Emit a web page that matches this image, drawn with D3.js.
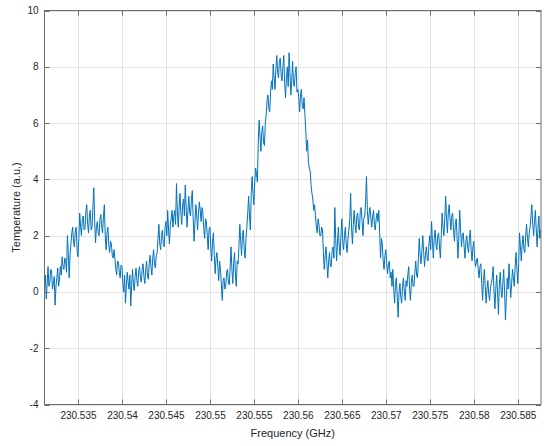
<!DOCTYPE html>
<html>
<head>
<meta charset="utf-8">
<script src="https://cdnjs.cloudflare.com/ajax/libs/d3/7.8.5/d3.min.js"></script>
<style>
    body { margin: 0; background: #fff; }
    div.container { width: 547px; height: 446px; }
    text { font-family: "Liberation Sans", Arial, sans-serif; }
</style>
</head>
<body>
<div class="container"></div>
<script>
// channel grid (GHz)
const FREQ_START = 230.53114
const FREQ_STEP = 0.0001

// temperature per channel
const temperature = [
    0.1, 0.6, -0.25, 0.3, 0.9, 0.2, 0.35, 0.8, 0.75, 0.1, 0.3, 0.55, -0.47, 0.2, 0.5, 0.85, 0.2, 0.45, 0.9, 0.6,
    1.25, 0.9, 0.8, 1.2, 1.15, 0.7, 2.0, 1.4, 0.5, 1.3, 1.7, 2.1, 2.3, 1.75, 1.6, 2.2, 2.3, 1.5, 1.25, 1.9,
    2.8, 2.3, 2.0, 2.6, 2.7, 2.2, 2.25, 2.85, 3.1, 2.4, 2.1, 2.7, 2.9, 2.2, 2.3, 3.0, 3.7, 2.5, 1.75, 2.3,
    2.5, 2.1, 2.0, 2.6, 2.75, 2.3, 2.1, 2.7, 3.1, 2.0, 1.5, 2.1, 2.3, 1.7, 1.4, 1.8, 1.7, 1.3, 1.2, 1.5,
    1.2, 0.8, 0.6, 1.1, 1.05, 0.7, 0.5, 0.95, 0.9, 0.3, 0.0, 0.6, -0.4, 0.2, 0.7, 0.35, 0.1, 0.6, -0.5, 0.2,
    0.8, 0.3, 0.05, 0.55, 0.85, 0.4, 0.2, 0.7, 0.9, 0.5, 0.35, 0.8, 1.0, 0.55, 0.3, 0.75, 1.1, 0.6, 0.45, 1.0,
    1.3, 0.9, 0.6, 1.2, 1.5, 1.0, 0.85, 1.3, 1.4, 1.9, 2.4, 1.7, 1.5, 2.0, 2.2, 1.7, 1.6, 2.3, 2.5, 2.0,
    2.9, 2.2, 1.7, 2.4, 2.6, 2.9, 2.3, 2.7, 2.9, 2.4, 3.85, 2.9, 2.3, 3.0, 3.5, 2.8, 2.4, 3.1, 3.3, 2.7,
    3.8, 3.0, 2.3, 2.9, 3.4, 2.8, 2.7, 3.3, 3.6, 2.6, 1.8, 2.5, 3.1, 2.7, 2.2, 2.8, 3.2, 2.9, 2.5, 3.0,
    2.8, 2.3, 1.9, 2.6, 2.5, 2.0, 1.5, 2.2, 2.3, 1.6, 1.1, 1.8, 2.1, 1.3, 0.65, 1.2, 1.4, 0.9, 0.4, 1.1,
    0.8, 0.3, -0.3, 0.4, 0.5, 0.1, 0.2, 0.7, 0.8, 0.35, 0.25, 0.9, 1.6, 0.8, 0.3, 1.0, 1.4, 0.6, 0.2, 1.1,
    1.0, 1.6, 2.4, 1.8, 1.3, 2.0, 2.2, 1.5, 1.2, 1.9, 2.3, 2.8, 3.4, 2.7, 2.2, 3.5, 4.1, 3.5, 3.1, 3.9,
    4.4, 4.2, 3.9, 5.4, 6.1, 5.5, 5.0, 5.7, 5.9, 5.3, 5.2, 6.0, 6.3, 6.8, 7.0, 6.5, 6.4, 7.1, 7.5, 7.2,
    8.1, 7.6, 7.2, 7.9, 8.4, 7.8, 7.6, 8.2, 8.3, 7.7, 7.5, 8.0, 8.4, 7.4, 6.9, 7.6, 8.0, 7.3, 8.5, 7.8,
    7.0, 7.5, 8.2, 7.4, 7.3, 7.8, 8.0, 7.1, 7.2, 6.9, 6.4, 7.0, 7.2, 6.6, 6.5, 6.9, 6.3, 5.7, 5.0, 5.4,
    4.6, 4.4, 4.3, 3.8, 3.5, 3.3, 2.9, 3.1, 2.7, 2.3, 2.1, 2.6, 2.4, 2.0, 2.0, 2.3, 2.2, 1.4, 0.8, 1.3,
    1.6, 1.0, 0.5, 1.1, 1.4, 0.9, 0.9, 1.5, 1.6, 1.2, 3.0, 1.9, 1.1, 1.7, 2.3, 1.6, 1.3, 2.0, 2.6, 1.8,
    1.5, 2.0, 2.3, 1.7, 1.4, 1.9, 2.2, 2.6, 3.5, 2.3, 1.7, 2.4, 2.9, 2.4, 2.1, 2.7, 2.8, 2.3, 2.2, 2.9,
    3.0, 2.5, 2.0, 2.6, 2.7, 3.2, 4.1, 2.9, 2.4, 2.8, 3.0, 2.6, 2.3, 2.7, 2.9, 2.4, 2.2, 2.6, 2.8, 2.5,
    2.9, 2.1, 1.2, 1.9, 1.7, 1.1, 0.8, 1.3, 1.5, 1.0, 0.65, 1.0, 1.1, 0.5, 0.7, 0.2, 0.8, 0.1, -0.4, 0.3,
    0.5, -0.2, -0.9, 0.0, 0.3, -0.2, -0.4, 0.2, 0.5, 0.0, -0.3, 0.4, 0.2, 0.6, 0.9, 0.1, -0.3, 0.3, 0.6, 0.2,
    0.2, 0.7, 1.1, 0.6, 0.5, 1.2, 1.9, 1.3, 1.0, 1.5, 2.0, 1.4, 0.9, 1.3, 1.6, 1.2, 1.1, 1.7, 2.0, 1.5,
    2.5, 1.8, 1.2, 1.9, 2.2, 1.7, 1.5, 2.0, 2.1, 1.6, 1.2, 2.0, 2.8, 2.3, 2.0, 2.6, 3.4, 2.6, 2.1, 2.8,
    3.1, 2.6, 2.2, 2.7, 2.8, 2.2, 1.8, 2.4, 2.6, 1.9, 1.2, 2.0, 2.9, 2.2, 1.6, 2.0, 2.1, 1.6, 1.2, 1.8,
    2.0, 1.6, 1.4, 1.9, 2.2, 1.5, 1.1, 1.6, 1.8, 1.2, 0.9, 1.1, 1.2, 0.8, 0.5, 0.9, 1.0, 0.3, -0.3, 0.4,
    0.8, 0.2, -0.4, 0.1, 0.4, -0.1, -0.3, 0.2, 0.3, 0.5, 0.9, 0.0, -0.6, 0.1, 0.6, 0.0, -0.8, 0.2, 0.7, 0.1,
    -0.2, 0.3, 0.8, 0.0, -1.0, -0.2, 0.5, 0.1, 1.0, 0.4, -0.2, 0.3, 0.8, 0.5, 0.2, 0.9, 1.4, 0.8, 0.3, 1.0,
    2.1, 1.6, 1.1, 1.7, 2.0, 1.5, 1.4, 2.0, 2.4, 1.9, 1.6, 2.1, 2.3, 2.7, 3.1, 2.4, 2.0, 2.5, 2.9, 2.2,
    1.6, 2.3, 2.7, 1.9, 2.2
]

// axis ticks
const xTickValues = [230.535, 230.54, 230.545, 230.55, 230.555, 230.56, 230.565, 230.57, 230.575, 230.58, 230.585]
const xTickLabels = ["230.535", "230.54", "230.545", "230.55", "230.555", "230.56", "230.565", "230.57", "230.575", "230.58", "230.585"]
const yTickValues = [-4, -2, 0, 2, 4, 6, 8, 10]
const yTickLabels = ["-4", "-2", "0", "2", "4", "6", "8", "10"]

const xDomain = [230.531136, 230.58758]
const yDomain = [-4, 10]

// plot box in pixels
const boxLeft = 44.5, boxRight = 541, boxTop = 10.5, boxBottom = 404.5
const tickLen = 5
const axisColor = "#6e6e6e"
const textColor = "#262626"
const gridColor = "#e3e3e3"
const lineColor = "#0072bd"

const svg = d3.select("div.container").append("svg")
    .attr("width", 547)
    .attr("height", 446)

const x = d3.scaleLinear().domain(xDomain).range([boxLeft, boxRight])
const y = d3.scaleLinear().domain(yDomain).range([boxBottom, boxTop])

const data = temperature.map((t, i) => [FREQ_START + i * FREQ_STEP, t])

// grid lines
svg.append("g").selectAll("line")
    .data(xTickValues)
    .enter().append("line")
    .attr("x1", d => Math.round(x(d)) + 0.5).attr("x2", d => Math.round(x(d)) + 0.5)
    .attr("y1", boxTop).attr("y2", boxBottom)
    .attr("stroke", gridColor)

svg.append("g").selectAll("line")
    .data(yTickValues)
    .enter().append("line")
    .attr("y1", d => Math.round(y(d)) + 0.5).attr("y2", d => Math.round(y(d)) + 0.5)
    .attr("x1", boxLeft).attr("x2", boxRight)
    .attr("stroke", gridColor)

// the spectrum
svg.append("path")
    .datum(data)
    .attr("fill", "none")
    .attr("stroke", lineColor)
    .attr("stroke-width", 1)
    .attr("stroke-linejoin", "round")
    .attr("d", d3.line().x(d => x(d[0])).y(d => y(d[1])))

// box with inward ticks on all four sides
const axes = svg.append("g").attr("stroke", axisColor).attr("fill", "none")

axes.append("rect")
    .attr("x", boxLeft).attr("y", boxTop)
    .attr("width", boxRight - boxLeft).attr("height", boxBottom - boxTop)

xTickValues.forEach(v => {
    const px = Math.round(x(v)) + 0.5
    axes.append("line").attr("x1", px).attr("x2", px).attr("y1", boxBottom).attr("y2", boxBottom - tickLen)
    axes.append("line").attr("x1", px).attr("x2", px).attr("y1", boxTop).attr("y2", boxTop + tickLen)
})
yTickValues.forEach(v => {
    const py = Math.round(y(v)) + 0.5
    axes.append("line").attr("y1", py).attr("y2", py).attr("x1", boxLeft).attr("x2", boxLeft + tickLen)
    axes.append("line").attr("y1", py).attr("y2", py).attr("x1", boxRight).attr("x2", boxRight - tickLen)
})

// tick labels
svg.append("g").selectAll("text")
    .data(xTickValues)
    .enter().append("text")
    .attr("x", d => x(d))
    .attr("y", boxBottom + 14)
    .attr("text-anchor", "middle")
    .attr("font-size", 10)
    .attr("fill", textColor)
    .text((d, i) => xTickLabels[i])

svg.append("g").selectAll("text")
    .data(yTickValues)
    .enter().append("text")
    .attr("x", boxLeft - 6)
    .attr("y", d => y(d) + 3.5)
    .attr("text-anchor", "end")
    .attr("font-size", 10)
    .attr("fill", textColor)
    .text((d, i) => yTickLabels[i])

// axis titles
svg.append("text")
    .attr("x", (boxLeft + boxRight) / 2)
    .attr("y", 437)
    .attr("text-anchor", "middle")
    .attr("font-size", 11)
    .attr("fill", textColor)
    .text("Frequency (GHz)")

svg.append("text")
    .attr("transform", "translate(20," + ((boxTop + boxBottom) / 2) + ") rotate(-90)")
    .attr("text-anchor", "middle")
    .attr("font-size", 11)
    .attr("fill", textColor)
    .text("Temperature (a.u.)")
</script>
</body>
</html>
